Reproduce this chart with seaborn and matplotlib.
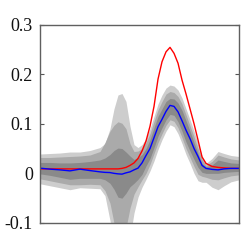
import numpy as np
import pandas as pd
import matplotlib
matplotlib.use("Agg")
import matplotlib.pyplot as plt
import seaborn as sns

# sample positions
x = [0, 10, 20, 30, 40, 50, 60, 65, 70, 74, 78, 82, 86, 90, 94, 98, 102, 106, 110,
     114, 118, 122, 126, 130, 134, 138, 142, 146, 150, 154, 158, 162, 166, 172,
     178, 184, 191, 199]

# mean curves
blue = [0.0105, 0.0085, 0.007, 0.005, 0.0085, 0.0056, 0.003, 0.002, 0.0016, 0.0,
        -0.001, -0.0016, 0.001, 0.003, 0.007, 0.0105, 0.021, 0.036, 0.050, 0.072,
        0.094, 0.109, 0.125, 0.137, 0.135, 0.124, 0.106, 0.087, 0.070, 0.050,
        0.034, 0.016, 0.010, 0.008, 0.007, 0.009, 0.010, 0.010]
red = [0.009, 0.009, 0.009, 0.009, 0.009, 0.009, 0.009, 0.009, 0.009, 0.009,
       0.009, 0.010, 0.012, 0.016, 0.021, 0.030, 0.045, 0.065, 0.095, 0.135,
       0.190, 0.225, 0.245, 0.254, 0.242, 0.222, 0.188, 0.160, 0.130, 0.100,
       0.067, 0.033, 0.020, 0.014, 0.012, 0.011, 0.010, 0.010]

# percentile bands (outer, middle, inner)
lu = [0.039, 0.040, 0.041, 0.043, 0.043, 0.046, 0.052, 0.060, 0.090, 0.130,
      0.158, 0.161, 0.145, 0.095, 0.058, 0.052, 0.058, 0.070, 0.090, 0.115,
      0.140, 0.158, 0.172, 0.178, 0.176, 0.168, 0.152, 0.130, 0.108, 0.085,
      0.060, 0.035, 0.020, 0.030, 0.044, 0.040, 0.036, 0.034]
ll = [-0.021, -0.025, -0.029, -0.033, -0.029, -0.030, -0.031, -0.045, -0.095,
      -0.14, -0.16, -0.16, -0.155, -0.13, -0.08, -0.048, -0.028, -0.012, 0.005,
      0.025, 0.048, 0.068, 0.085, 0.098, 0.094, 0.080, 0.060, 0.038, 0.020,
      0.0, -0.015, -0.018, -0.018, -0.028, -0.033, -0.025, -0.017, -0.013]
mu = [0.032, 0.032, 0.033, 0.034, 0.035, 0.037, 0.044, 0.062, 0.085, 0.097,
      0.104, 0.101, 0.090, 0.060, 0.044, 0.045, 0.050, 0.062, 0.080, 0.105,
      0.128, 0.145, 0.160, 0.165, 0.163, 0.155, 0.140, 0.118, 0.096, 0.074,
      0.050, 0.028, 0.016, 0.024, 0.037, 0.033, 0.029, 0.027]
ml = [-0.011, -0.015, -0.019, -0.023, -0.023, -0.022, -0.023, -0.035, -0.060,
      -0.10, -0.12, -0.12, -0.11, -0.070, -0.042, -0.027, -0.013, 0.0, 0.018,
      0.040, 0.062, 0.080, 0.097, 0.108, 0.105, 0.092, 0.072, 0.050, 0.032,
      0.014, -0.002, -0.006, -0.008, -0.012, -0.013, -0.009, -0.005, -0.003]
du = [0.022, 0.022, 0.021, 0.021, 0.022, 0.024, 0.027, 0.031, 0.038, 0.046,
      0.051, 0.050, 0.043, 0.035, 0.028, 0.032, 0.038, 0.050, 0.068, 0.092,
      0.115, 0.130, 0.145, 0.151, 0.150, 0.142, 0.127, 0.106, 0.085, 0.062,
      0.040, 0.020, 0.013, 0.017, 0.027, 0.024, 0.021, 0.020]
dl = [-0.001, -0.004, -0.008, -0.012, -0.010, -0.010, -0.010, -0.013, -0.020,
      -0.032, -0.048, -0.050, -0.040, -0.027, -0.020, -0.012, -0.002, 0.015,
      0.030, 0.052, 0.075, 0.092, 0.108, 0.119, 0.117, 0.104, 0.085, 0.063,
      0.045, 0.028, 0.012, 0.002, 0.0, 0.0, 0.0, 0.002, 0.003, 0.004]

yticks = [-0.1, 0, 0.1, 0.2, 0.3]
ytick_labels = ["-0.1", "0", "0.1", "0.2", "0.3"]

sns.set_theme(style="white")
plt.rcParams['font.family'] = ['Liberation Serif', 'DejaVu Serif']

df = pd.DataFrame({"x": x, "blue": blue, "red": red})

fig = plt.figure(figsize=(2.48, 2.48), dpi=100)
ax = fig.add_axes([0.161, 0.101, 0.803, 0.800])

ax.fill_between(x, ll, lu, color="#cdcdcd", linewidth=0)
ax.fill_between(x, ml, mu, color="#aaaaaa", linewidth=0)
ax.fill_between(x, dl, du, color="#8a8a8a", linewidth=0)

sns.lineplot(data=df, x="x", y="red", color="#ff0000", linewidth=1, ax=ax)
sns.lineplot(data=df, x="x", y="blue", color="#0000ff", linewidth=1, ax=ax)

ax.set_xlim(0, 199)
ax.set_ylim(-0.1, 0.3)
ax.set_xticks([])
ax.set_yticks(yticks)
ax.set_yticklabels(ytick_labels, fontsize=13, color="#111111")
ax.set_xlabel("")
ax.set_ylabel("")
ax.tick_params(axis="y", direction="in", length=3, width=0.8, color="#555555",
               left=True, right=True, pad=5)
for s in ax.spines.values():
    s.set_color("#606060")
    s.set_linewidth(1)

fig.savefig("out.png", dpi=100)
